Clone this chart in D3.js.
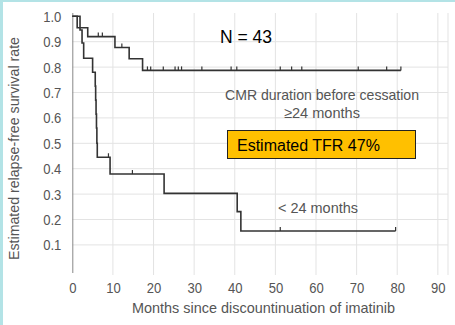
<meta charset="utf-8">
<style>
	body { margin: 0; background: #fff; }
	svg { display: block; }
	.tick text { fill: #555; }
</style>
<body>
<svg id="svg"></svg>
<script src="https://cdn.jsdelivr.net/npm/d3@7"></script>
<script>

// DATA
// >= 24 months CMR group: step times (months) and survival after each step
var longTimes = [0, 1.2, 3.8, 10.5, 14.0, 17.3]
var longSurv = [1.0, 0.955, 0.92, 0.877, 0.833, 0.787]
var longEnd = 80.9
var longCensor = [6.4, 7.4, 12.2, 18.5, 19.3, 22.4, 25.3, 26.1, 26.9, 31.9, 39.1, 40.5, 51.2, 54.0, 56.5, 70.4, 77.4, 80.9]

// < 24 months CMR group
var shortTimes = [0, 1.9, 2.4, 2.8, 5.0, 5.65, 5.75, 5.85, 5.95, 6.05, 6.15, 9.3, 22.6, 40.6, 41.5]
var shortSurv = [1.0, 0.946, 0.895, 0.835, 0.78, 0.725, 0.67, 0.615, 0.56, 0.50, 0.445, 0.379, 0.303, 0.231, 0.155]
var shortEnd = 79.6
var shortCensor = [8.9, 14.8, 51.2, 79.6]

var xTicks = [0, 10, 20, 30, 40, 50, 60, 70, 80, 90]
var yTicks = [0.1, 0.2, 0.3, 0.4, 0.5, 0.6, 0.7, 0.8, 0.9, 1.0]

// CANVAS
var width = 455
var height = 325
var font = '"Liberation Sans", Arial, sans-serif'

var svg = d3.select( '#svg' )
	.attr( 'width', width )
	.attr( 'height', height )

// squeeze wide glyphs to look like the condensed face of the original
function condense( sel, factor ){
	sel.each( function(){
		var len = this.getComputedTextLength()
		d3.select( this )
			.attr( 'textLength', len * factor )
			.attr( 'lengthAdjust', 'spacingAndGlyphs' )
	})
}

function grayText( px, py, txt, w ){
	return svg.append( 'text' )
		.attr( 'x', px ).attr( 'y', py )
		.attr( 'text-anchor', 'middle' )
		.style( 'font-family', font ).style( 'font-size', '15px' ).style( 'fill', '#555' )
		.attr( 'textLength', w )
		.attr( 'lengthAdjust', 'spacingAndGlyphs' )
		.text( txt )
}

// slide frame
svg.append( 'rect' ).attr( 'width', width ).attr( 'height', height ).attr( 'fill', '#b3e3e6' )
svg.append( 'rect' ).attr( 'x', 3 ).attr( 'y', 2 ).attr( 'width', width - 3 ).attr( 'height', height - 2 ).attr( 'fill', '#fff' )

var x = d3.scaleLinear().domain([ 0, 92.5 ]).range([ 72.3, 448 ])
var y = d3.scaleLinear().domain([ 0, 1 ]).range([ 270.3, 16.3 ])

// GRID
var grid = svg.append( 'g' ).attr( 'stroke', '#e3e3e3' ).attr( 'stroke-width', 1 )
grid.selectAll( '.gv' ).data( xTicks.slice( 1 ).concat([ 92.5 ]) ).enter()
	.append( 'line' )
		.attr( 'x1', d => x( d ) ).attr( 'x2', d => x( d ) )
		.attr( 'y1', 13 ).attr( 'y2', 275 )
grid.selectAll( '.gh' ).data( yTicks.slice( 0, -1 ) ).enter()
	.append( 'line' )
		.attr( 'x1', x( 0 ) ).attr( 'x2', x( 92.5 ) )
		.attr( 'y1', d => y( d ) ).attr( 'y2', d => y( d ) )

// AXES
var yAxis = svg.append( 'g' )
	.attr( 'transform', 'translate(' + x( 0 ) + ',0)' )
	.call( d3.axisLeft( y ).tickValues( yTicks ).tickFormat( d3.format( '.1f' )).tickSize( 0 ).tickPadding( 11 ))
yAxis.select( '.domain' ).attr( 'stroke', '#888' ).attr( 'd', 'M0.5,13V273' )
yAxis.selectAll( 'text' ).style( 'font-family', font ).style( 'font-size', '14.5px' ).attr( 'dy', '0.35em' )
	.call( condense, 0.9 )

var xAxis = svg.append( 'g' )
	.attr( 'transform', 'translate(0,' + 283 + ')' )
	.call( d3.axisBottom( x ).tickValues( xTicks ).tickSize( 0 ).tickPadding( 0 ))
xAxis.select( '.domain' ).remove()
xAxis.selectAll( 'text' ).style( 'font-family', font ).style( 'font-size', '14.5px' ).attr( 'dy', '0.71em' )
	.call( condense, 0.9 )

grayText( 263.5, 313, 'Months since discountinuation of imatinib', 263 )

grayText( 0, 0, 'Estimated relapse-free survival rate', 223 )
	.attr( 'transform', 'translate(19,148.5) rotate(-90)' )

// CURVES
function stepPoints( times, surv, end ){
	var pts = times.map( ( t, i ) => [ t, surv[ i ]] )
	pts.push([ end, surv[ surv.length - 1 ]])
	return pts
}
function survAt( times, surv, t ){
	var s = surv[ 0 ]
	times.forEach( ( tt, i ) => { if( tt <= t ) s = surv[ i ] })
	return s
}

var line = d3.line()
	.x( d => x( d[ 0 ] ))
	.y( d => y( d[ 1 ] ))
	.curve( d3.curveStepAfter )

var groups = [
	{ times: longTimes, surv: longSurv, end: longEnd, censor: longCensor },
	{ times: shortTimes, surv: shortSurv, end: shortEnd, censor: shortCensor }
]

groups.forEach( g => {
	svg.append( 'path' )
		.attr( 'd', line( stepPoints( g.times, g.surv, g.end )))
		.attr( 'fill', 'none' )
		.attr( 'stroke', '#333' )
		.attr( 'stroke-width', 1.6 )

	svg.append( 'g' ).selectAll( 'line' )
		.data( g.censor ).enter()
		.append( 'line' )
			.attr( 'x1', d => x( d )).attr( 'x2', d => x( d ))
			.attr( 'y1', d => y( survAt( g.times, g.surv, d )) - 4 )
			.attr( 'y2', d => y( survAt( g.times, g.surv, d )))
			.attr( 'stroke', '#333' )
			.attr( 'stroke-width', 1.2 )
})

// LABELS
svg.append( 'text' )
	.attr( 'x', 220 ).attr( 'y', 43 )
	.style( 'font-family', font ).style( 'font-size', '17.5px' ).style( 'fill', '#000' )
	.text( 'N = 43' )

grayText( 322, 100, 'CMR duration before cessation', 194 )
grayText( 322, 118, '≥24 months', 76 )
grayText( 318, 213, '< 24 months', 80 )

// callout box
svg.append( 'rect' )
	.attr( 'x', 227.5 ).attr( 'y', 130.5 )
	.attr( 'width', 188 ).attr( 'height', 28 )
	.attr( 'fill', '#ffc000' )
	.attr( 'stroke', '#222' )
	.attr( 'stroke-width', 1 )
svg.append( 'text' )
	.attr( 'x', 237 ).attr( 'y', 151 )
	.style( 'font-family', font ).style( 'font-size', '16px' ).style( 'fill', '#000' )
	.text( 'Estimated TFR 47%' )

</script>
</body>
